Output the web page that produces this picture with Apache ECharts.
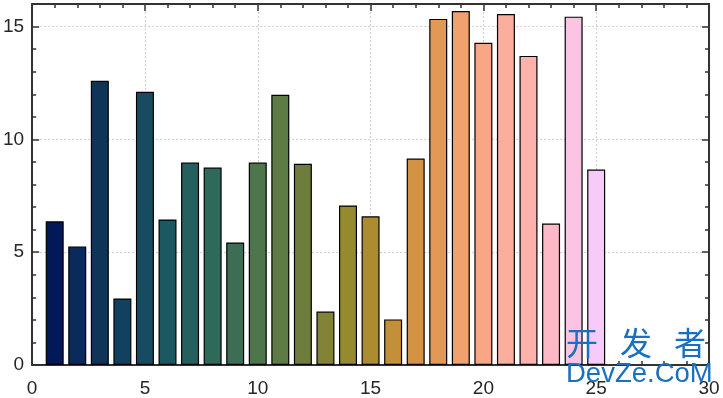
<!DOCTYPE html>
<html><head><meta charset="utf-8">
<script src="https://cdn.jsdelivr.net/npm/echarts@6/dist/echarts.min.js"></script>
<style>html,body{margin:0;padding:0;background:#fff}#c{width:723px;height:398px}</style>
</head><body><div id="c"></div>
<script>
const xPositions = [1,2,3,4,5,6,7,8,9,10,11,12,13,14,15,16,17,18,19,20,21,22,23,24,25];
const values = [6.37,5.25,12.6,2.95,12.11,6.45,8.97,8.75,5.43,8.97,11.98,8.92,2.37,7.07,6.59,2.02,9.15,15.34,15.69,14.28,15.56,13.7,6.27,15.44,8.66];
const barColors = ['#011959','#0b2a5c','#0e3458','#124160','#174c60','#1c5862','#25605f','#2f6959','#3d6e55','#4d764d','#5e7a45','#6f7d3c','#838337','#968a30','#ad8c2f','#c29038','#d29444','#e39956','#f0a16e','#f8a685','#fcae9c','#fdb3ab','#fdbac6','#fbc4e2','#f7cbf8'];
const xTicks = [0,5,10,15,20,25,30];
const yTicks = [0,5,10,15];
const watermarkChars = ['开','发','者'];
const watermarkText = 'DevZe.CoM';

const chart = echarts.init(document.getElementById('c'));
const axisCol = '#333333';
const font = 'Liberation Sans, Arial, sans-serif';
function xa(pos, show){
  return {type:'value', position:pos, min:0, max:30, interval:5,
    axisLine:{show:true, onZero:false, lineStyle:{color:axisCol, width:2}},
    axisTick:{show:true, inside:true, length:7, lineStyle:{color:axisCol, width:1.5}},
    minorTick:{show:true, splitNumber:5, length:4, lineStyle:{color:axisCol, width:1.5}},
    axisLabel:{show:show, color:'#262626', fontSize:19, fontFamily:font, margin:14},
    splitLine:{show:show, lineStyle:{color:'#d4d4d4', type:[2,2], width:1.3}}};
}
function ya(pos, show){
  return {type:'value', position:pos, min:0, max:16, interval:5,
    axisLine:{show:true, onZero:false, lineStyle:{color:axisCol, width:2}},
    axisTick:{show:true, inside:true, length:7, lineStyle:{color:axisCol, width:1.5}},
    minorTick:{show:true, splitNumber:5, length:4, lineStyle:{color:axisCol, width:1.5}},
    axisLabel:{show:show, color:'#262626', fontSize:19, fontFamily:font, margin:8,
      formatter: v => yTicks.includes(v) ? String(v) : ''},
    splitLine:{show:show, lineStyle:{color:'#d4d4d4', type:[2,2], width:1.3}}};
}
const wmColor = '#1a6fc0';
const graphics = watermarkChars.map((ch,i)=>({type:'text', left:566 + i*54, top:327,
  style:{text:ch, fill:wmColor, font:'32px "Noto Sans CJK SC", sans-serif'}, z:100}));
graphics.push({type:'text', left:566, top:360, style:{text:watermarkText, fill:wmColor, font:'27.5px "Liberation Sans", Arial, sans-serif'}, z:100});
chart.setOption({
  animation:false,
  backgroundColor:'#fff',
  grid:{left:32, right:14, top:4, bottom:33},
  xAxis:[xa('bottom', true), xa('top', false)],
  yAxis:[ya('left', true), ya('right', false)],
  series:[{
    type:'bar', xAxisIndex:0, yAxisIndex:0, barWidth:18,
    data: xPositions.map((x,i)=>({value:[x, values[i]], itemStyle:{color:barColors[i]}})),
    itemStyle:{borderColor:'#000', borderWidth:1.2}
  }],
  graphic:graphics
});
</script></body></html>
